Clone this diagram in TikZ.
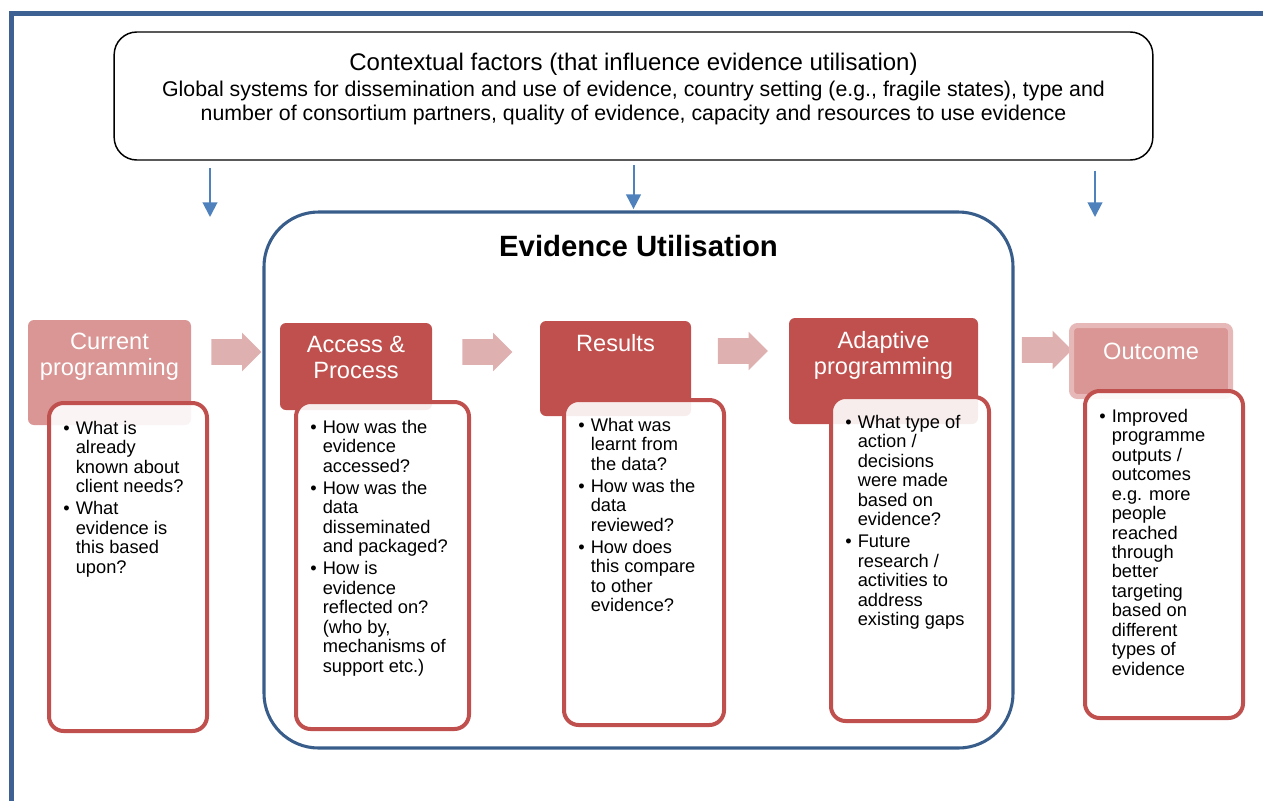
\documentclass[tikz,border=0pt]{standalone}
\usepackage{fontspec}
\setmainfont{Liberation Sans}
\usetikzlibrary{shapes.arrows, arrows.meta}

\definecolor{framebl}{RGB}{60,97,146}
\definecolor{eublue}{RGB}{56,93,138}
\definecolor{headred}{RGB}{192,80,77}
\definecolor{headpale}{RGB}{217,150,148}
\definecolor{edgepale}{RGB}{230,185,184}
\definecolor{flowpink}{RGB}{222,177,176}
\definecolor{inblue}{RGB}{79,129,189}

% bullet and hanging indent for the question lists
\newcommand{\bul}{\makebox[9.4pt][l]{\textbullet}}
\newcommand{\cont}{\hspace*{9.4pt}}

\begin{document}
\begin{tikzpicture}[
    x=0.75pt, y=-0.75pt,
    ctxbox/.style={draw=black, line width=1.1pt, rounded corners=17pt, minimum width=779pt, minimum height=96pt, inner sep=0pt},
    ctxtext/.style={anchor=center, yshift=5.25pt, align=center, inner sep=0pt, font=\fontsize{16}{18.3}\selectfont},
    eubox/.style={draw=eublue, line width=2.3pt, rounded corners=41pt, minimum width=561.75pt, minimum height=402pt, inner sep=0pt},
    eutext/.style={anchor=center, yshift=-26.5pt, inner sep=0pt, font=\fontsize{22}{24}\selectfont\bfseries},
    stage/.style={rounded corners=4.5pt, inner sep=0pt},
    stagetext/.style={anchor=north, yshift=-10pt, align=center, text=white, inner sep=0pt, font=\fontsize{17.7}{19.5}\selectfont},
    qbox/.style={draw=headred, line width=3pt, rounded corners=11pt, fill=white, fill opacity=0.9, inner sep=0pt},
    qtext/.style={anchor=north west, xshift=12pt, yshift=-14.8pt, align=left, inner sep=0pt, opacity=1, text=black, font=\fontsize{13.7}{14.6}\selectfont},
    flow/.style={single arrow, fill=flowpink, inner xsep=0pt, inner ysep=9.4pt, minimum height=37.5pt, single arrow head extend=4.9pt},
    feed/.style={draw=inblue, line width=1.5pt, -{Triangle[length=11pt, width=11pt]}},
]
\useasboundingbox (0,0) rectangle (1263,800);

% outer frame
\draw[framebl, line width=3.75pt] (1275,13) -- (11,13) -- (11,810);

% context box
\node[ctxbox] (ctx) at (633.5,96) [label={[ctxtext]center:{\fontsize{18}{18.3}\selectfont Contextual factors (that influence evidence utilisation)}\\[1.5pt]
    Global systems for dissemination and use of evidence, country setting (e.g., fragile states), type and\\
    number of consortium partners, quality of evidence, capacity and resources to use evidence}] {};

% evidence utilisation frame
\node[eubox] (eu) at (638.5,480) [label={[eutext]north:Evidence Utilisation}] {};

% arrows from the context
\coordinate (inL) at (210,217);
\coordinate (inR) at (1095,217);
\draw[feed, shorten <=5.6pt] (ctx.south -| inL) -- (inL);
\draw[feed, shorten <=3.5pt, shorten >=1pt] (ctx.south) -- (ctx.south |- eu.north);
\draw[feed, shorten <=7.5pt] (ctx.south -| inR) -- (inR);

% flow arrows
\node[flow] (fw1) at (230,352) {};
\node[flow] (fw2) at (481,352) {};
\node[flow] (fw3) at (736.5,351) {};
\node[flow] (fw4) at (1040.5,350) {};

% stages
\node[stage, fill=headpale, minimum width=122.25pt, minimum height=78.75pt] (cur) at (109.5,372.5)
    [label={[stagetext]north:Current\\programming}] {};
\node[stage, fill=headred, minimum width=114pt, minimum height=65.25pt] (acc) at (356,366.5)
    [label={[stagetext]north:Access \&\\Process}] {};
\node[stage, fill=headred, minimum width=113.25pt, minimum height=71.25pt] (res) at (615.5,368.5)
    [label={[stagetext]north:Results}] {};
\node[stage, fill=headred, minimum width=141.75pt, minimum height=79.5pt] (ada) at (883.5,371)
    [label={[stagetext]north:Adaptive\\programming}] {};
\node[stage, fill=headpale, draw=edgepale, line width=3.75pt, minimum width=119.25pt, minimum height=53.25pt] (out) at (1151,361)
    [label={[stagetext, yshift=-4.5pt]north:Outcome}] {};

% question boxes
\node[qbox, minimum width=118.5pt, minimum height=246pt] (cq) at (128,567)
    [label={[qtext]north west:\bul What is\\\cont already\\\cont known about\\\cont client needs?\\[2pt]
    \bul What\\\cont evidence is\\\cont this based\\\cont upon?}] {};
\node[qbox, minimum width=129.75pt, minimum height=245.25pt] (aq) at (382.5,565.5)
    [label={[qtext]north west:\bul How was the\\\cont evidence\\\cont accessed?\\[2pt]
    \bul How was the\\\cont data\\\cont disseminated\\\cont and packaged?\\[2pt]
    \bul How is\\\cont evidence\\\cont reflected on?\\\cont (who by,\\\cont mechanisms of\\\cont support etc.)}] {};
\node[qbox, minimum width=120pt, minimum height=243.75pt] (rq) at (644,562.5)
    [label={[qtext]north west:\bul What was\\\cont learnt from\\\cont the data?\\[2pt]
    \bul How was the\\\cont data\\\cont reviewed?\\[2pt]
    \bul How does\\\cont this compare\\\cont to other\\\cont evidence?}] {};
\node[qbox, minimum width=118.5pt, minimum height=243pt] (dq) at (910,559)
    [label={[qtext]north west:\bul What type of\\\cont action /\\\cont decisions\\\cont were made\\\cont based on\\\cont evidence?\\[2pt]
    \bul Future\\\cont research /\\\cont activities to\\\cont address\\\cont existing gaps}] {};
\node[qbox, minimum width=118.5pt, minimum height=245.25pt] (oq) at (1164,554.5)
    [label={[qtext]north west:\bul Improved\\\cont programme\\\cont outputs /\\\cont outcomes\\\cont e.g. more\\\cont people\\\cont reached\\\cont through\\\cont better\\\cont targeting\\\cont based on\\\cont different\\\cont types of\\\cont evidence}] {};
\end{tikzpicture}
\end{document}
